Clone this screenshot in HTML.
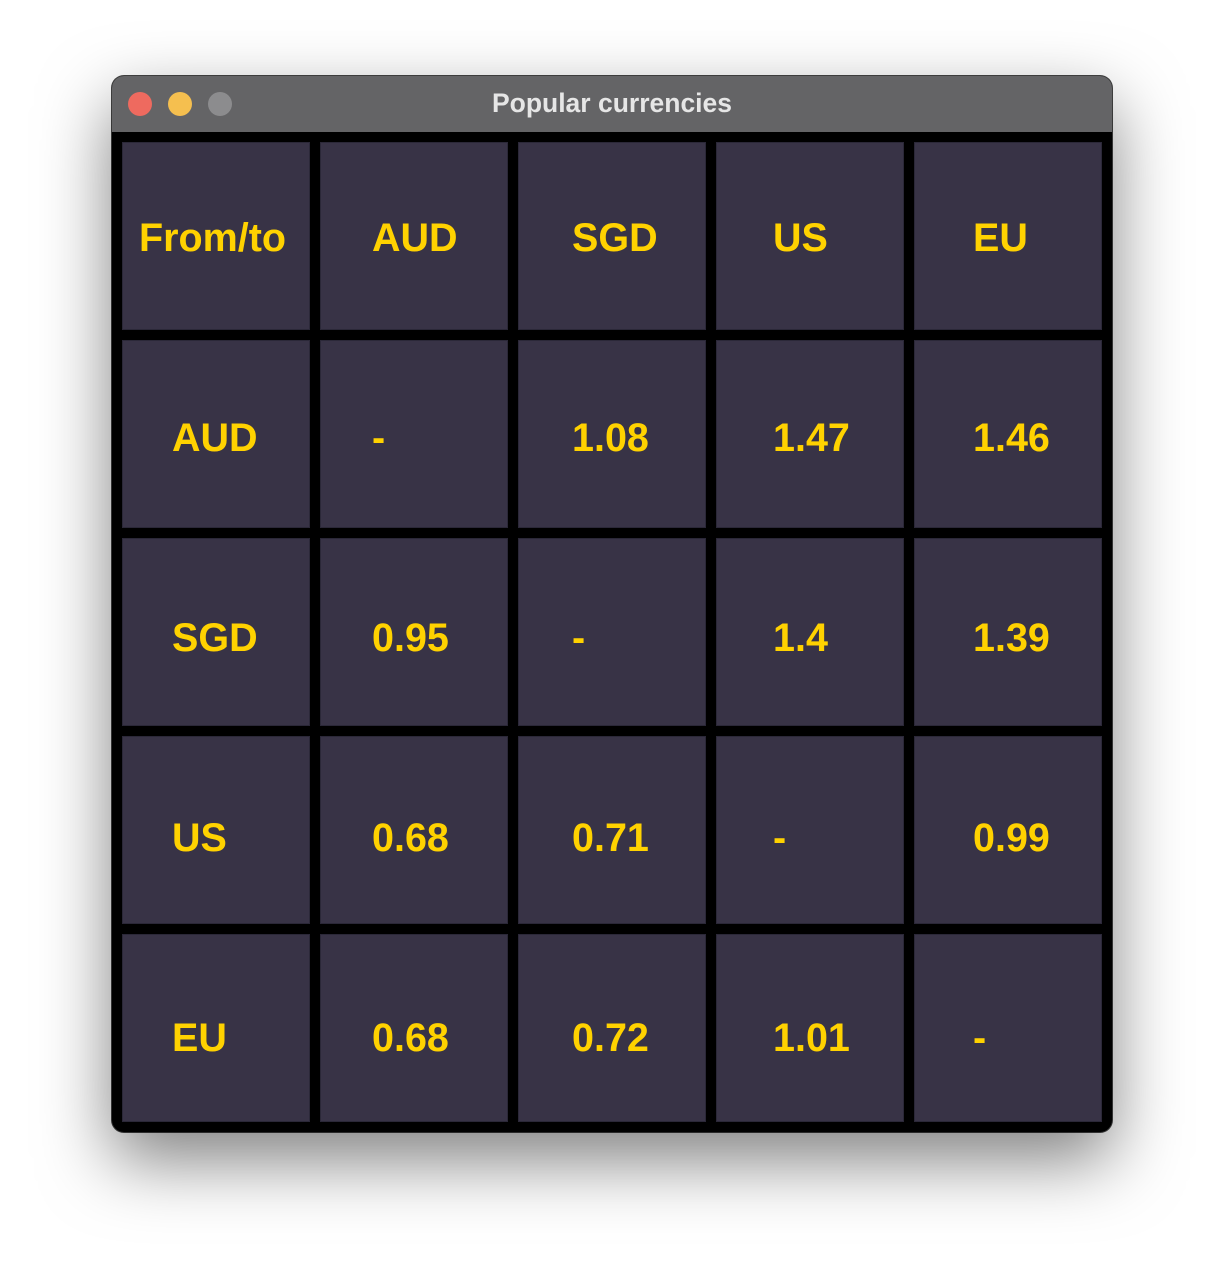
<!DOCTYPE html>
<html><head><meta charset="utf-8"><style>
body{margin:0;width:1224px;height:1280px;background:#fff;position:relative;overflow:hidden;font-family:"Liberation Sans",sans-serif}
.win{position:absolute;left:112px;top:76px;width:1000px;height:1056px;border-radius:12px;background:#000;box-shadow:0 28px 70px rgba(0,0,0,.5),0 0 0 1px #444;overflow:hidden}
.title{position:absolute;left:0;top:0;width:1000px;height:56px;background:#646466;color:#e6e6e6;font-weight:bold;font-size:26.5px;text-align:center;line-height:54px}
.dot{position:absolute;top:16px;width:24px;height:24px;border-radius:50%}
.cell{position:absolute;width:186px;height:186px;background:#383346;border:1px solid #2b2838;color:#ffd200;font-weight:bold;font-size:39.5px;white-space:nowrap;overflow:hidden}
</style></head><body>
<div class="win">
<div class="title">Popular currencies</div>
<div class="dot" style="left:16px;background:#ee6a5f"></div>
<div class="dot" style="left:56px;background:#f5bf4f"></div>
<div class="dot" style="left:96px;background:#8c8c8e"></div>
<div id="grid"></div>
</div>
<script>
const headers=["From/to","AUD","SGD","US","EU"];
const rowLabels=["AUD","SGD","US","EU"];
const rates=[["-","1.08","1.47","1.46"],["0.95","-","1.4","1.39"],["0.68","0.71","-","0.99"],["0.68","0.72","1.01","-"]];
const pads=[50,52,54,57,59];
const g=document.getElementById('grid');
function cell(r,c,txt,name){
  const d=document.createElement('div');
  d.className='cell';
  d.style.left=(10+c*198)+'px';
  d.style.top=(66+r*198)+'px';
  d.style.lineHeight=(190+4*r)+'px';
  let pad=pads[c];
  if(c===0&&r===0) pad=17;
  d.style.paddingLeft=(pad-1)+'px';
  d.style.width=(186-pad+1)+'px';
  d.textContent=txt;
  
  
  g.appendChild(d);
}
headers.forEach((h,c)=>cell(0,c,h,c===0?'corner-header':'column-header-'+h.toLowerCase()));
rowLabels.forEach((l,i)=>{
  cell(i+1,0,l,'row-header-'+l.toLowerCase());
  rates[i].forEach((v,j)=>cell(i+1,j+1,v,'rate-'+l.toLowerCase()+'-'+headers[j+1].toLowerCase()));
});
</script>
</body></html>
